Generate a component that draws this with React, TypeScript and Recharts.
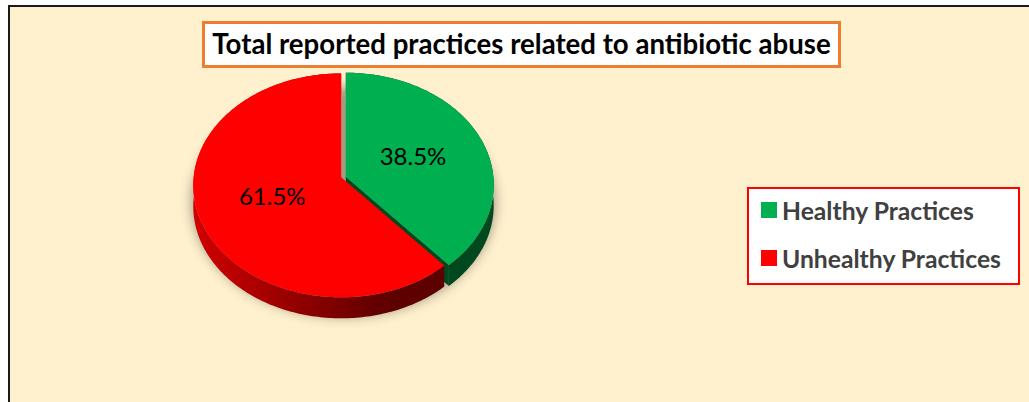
import React from "react";
import { PieChart, Pie, Cell, Legend } from "recharts";

const categories = ["Healthy Practices", "Unhealthy Practices"];
const shares = [38.5, 61.5];
const topColors = ["#00b050", "#ff0000"];
const sideFills = ["#00491f", "url(#redSide)"];
const title = "Total reported practices related to antibiotic abuse";

const data = categories.map((name, i) => ({ name, value: shares[i] }));

const FONT = "Lato, Carlito, sans-serif";
const TILT = 0.755;
const PERSPECTIVE = 0.0714;
const DEPTH = 21;
const EXPLODE = 2.5;

function project(cx: number, cy: number, r: number, angle: number, f = 1) {
  const rad = (angle * Math.PI) / 180;
  const u = Math.cos(rad) * f;
  const v = -Math.sin(rad) * f;
  const w = 1 - PERSPECTIVE * v;
  return [cx + (r * u) / w, cy + (r * TILT * v) / w];
}

function rim(cx: number, cy: number, r: number, a0: number, a1: number) {
  const n = Math.max(2, Math.ceil(Math.abs(a1 - a0)));
  const pts: number[][] = [];
  for (let i = 0; i <= n; i++) pts.push(project(cx, cy, r, a0 + ((a1 - a0) * i) / n));
  return pts;
}

const toPath = (pts: number[][]) =>
  "M" + pts.map((p) => `${p[0].toFixed(2)},${p[1].toFixed(2)}`).join("L") + "Z";

function Sector3D(props: any) {
  const { cx, cy, outerRadius, startAngle, endAngle, midAngle, fill, index } = props;
  const rad = (midAngle * Math.PI) / 180;
  const ox = cx + EXPLODE * Math.cos(rad);
  const oy = cy - EXPLODE * 0.4 * Math.sin(rad);
  const outer = rim(ox, oy, outerRadius, startAngle, endAngle);
  const shifted = outer.map((p) => [p[0], p[1] + DEPTH]);
  const band = [...outer, ...[...shifted].reverse()];
  const apex = [ox, oy];
  const tip = outer[outer.length - 1];
  const cut = [apex, tip, [tip[0], tip[1] + DEPTH], [apex[0], apex[1] + DEPTH]];
  const full = rim(cx, cy + DEPTH * 0.8, outerRadius + 4, 0, 360);
  return (
    <g>
      {index === 0 && (
        <path d={toPath(full)} fill="#000" fillOpacity={0.36} filter="url(#pieShadow)" stroke="none" />
      )}
      {index === 0 && <path d={toPath(cut)} fill={sideFills[index]} />}
      <path d={toPath(band)} fill={sideFills[index]} />
      <path d={toPath([apex, ...outer])} fill={fill} />
    </g>
  );
}

function renderLabel(props: any) {
  const { cx, cy, outerRadius, midAngle, value } = props;
  const [x, y] = project(cx, cy, outerRadius, midAngle, 0.51);
  return (
    <text x={x} y={y - 2} textAnchor="middle" dominantBaseline="central" fontFamily={FONT} fontSize={24} fill="#000">
      {`${value.toFixed(1)}%`}
    </text>
  );
}

function LegendBox({ payload }: any) {
  return (
    <div
      style={{
        boxSizing: "border-box",
        width: 273,
        height: 98,
        background: "#fff",
        border: "2px solid #ff0000",
        paddingLeft: 12,
        fontFamily: FONT,
        fontWeight: 700,
        fontSize: 24.7,
        color: "#404040",
      }}
    >
      {(payload || []).map((entry: any, i: number) => (
        <div key={entry.value} style={{ display: "flex", alignItems: "center", height: 48, marginTop: i === 0 ? -3 : 0 }}>
          <span style={{ width: 16, height: 16, background: entry.color, marginRight: 5, display: "inline-block" }} />
          <span style={{ whiteSpace: "nowrap" }}>{entry.value}</span>
        </div>
      ))}
    </div>
  );
}

export default function App() {
  return (
    <div style={{ position: "absolute", left: 0, top: 0, width: 1029, height: 402, overflow: "hidden", background: "#fff" }}>
      <div
        style={{
          position: "absolute",
          left: 8,
          top: 5,
          width: 1040,
          height: 420,
          boxSizing: "border-box",
          background: "#fff1cd",
          border: "2px solid #1a1a1a",
        }}
      />
      <div
        style={{
          position: "absolute",
          left: 202,
          top: 21,
          width: 639,
          height: 47,
          boxSizing: "border-box",
          background: "#fff",
          border: "3px solid #ed7d31",
          display: "flex",
          alignItems: "center",
          justifyContent: "center",
          paddingBottom: 2,
          fontFamily: FONT,
          fontWeight: 700,
          fontSize: 27.6,
          color: "#000",
          whiteSpace: "nowrap",
        }}
      >
        {title}
      </div>
      <div style={{ position: "absolute", left: 0, top: 0 }}>
        <PieChart width={1029} height={402} margin={{ top: 0, right: 0, bottom: 0, left: 0 }}>
          <defs>
            <filter id="pieShadow" x="-20%" y="-20%" width="140%" height="140%">
              <feGaussianBlur stdDeviation="6" />
            </filter>
            <linearGradient id="redSide" gradientUnits="userSpaceOnUse" x1="195" y1="0" x2="445" y2="0">
              <stop offset="0" stopColor="#d00000" />
              <stop offset="0.45" stopColor="#8c0000" />
              <stop offset="0.75" stopColor="#600000" />
              <stop offset="1" stopColor="#5c0000" />
            </linearGradient>
          </defs>
          <Pie
            data={data}
            dataKey="value"
            nameKey="name"
            cx={343.5}
            cy={177}
            outerRadius={147.5}
            innerRadius={0}
            startAngle={90}
            endAngle={-270}
            stroke="none"
            isAnimationActive={false}
            shape={Sector3D}
            label={renderLabel}
            labelLine={false}
          >
            {data.map((d, i) => (
              <Cell key={d.name} fill={topColors[i]} />
            ))}
          </Pie>
          <Legend
            layout="vertical"
            content={<LegendBox />}
            wrapperStyle={{ position: "absolute", left: 747, top: 187, width: 273, height: 98 }}
          />
        </PieChart>
      </div>
    </div>
  );
}
